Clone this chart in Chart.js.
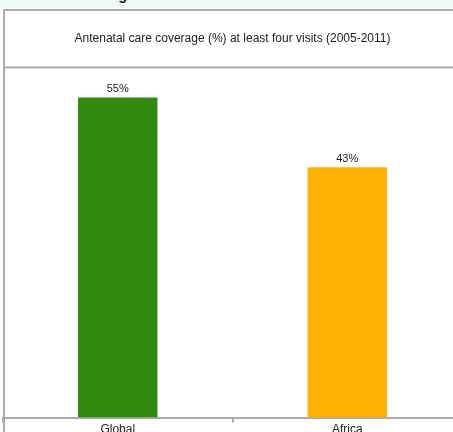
<!DOCTYPE html>
<html>
<head>
<meta charset="utf-8">
<title>Antenatal care coverage</title>
<script src="https://cdn.jsdelivr.net/npm/chart.js@4.4.0/dist/chart.umd.min.js"></script>
<style>
  html, body { margin: 0; padding: 0; background: #fff; overflow: hidden; width: 453px; height: 432px; }
  #strip { position: absolute; left: 0; top: 0; width: 453px; height: 8px; background: #effbf6; overflow: hidden; z-index: 1; }
  #strip span { position: absolute; left: 71px; top: -13px; font: bold 14px "Liberation Sans", Arial, sans-serif; color: #111; white-space: nowrap; }
  #wrap { position: absolute; left: 0; top: 0; width: 453px; height: 432px; overflow: hidden; }
</style>
</head>
<body>
<div id="strip"><span>Coverage</span></div>
<div id="wrap"><canvas id="anc" width="462" height="437"></canvas></div>
<script>
const regions = ['Global', 'Africa'];
const coverage = [55, 43];
const barColors = ['#338a0e', '#ffb100'];
const titleText = 'Antenatal care coverage (%) at least four visits (2005-2011)';

const lineGrey = '#ababab';

// box around the title and the left edge of the panel
const framePlugin = {
  id: 'frame',
  beforeDraw(chart) {
    const ctx = chart.ctx;
    const area = chart.chartArea;
    ctx.save();
    ctx.fillStyle = lineGrey;
    ctx.fillRect(3, 9, chart.width, 2);
    ctx.fillRect(3, area.top - 2, chart.width, 2);
    ctx.fillRect(3, 9, 2, chart.height);
    ctx.restore();
  }
};

// percentage above each bar
const valueLabels = {
  id: 'valueLabels',
  afterDatasetsDraw(chart) {
    const ctx = chart.ctx;
    const meta = chart.getDatasetMeta(0);
    ctx.save();
    ctx.font = '11px "Liberation Sans", Arial, sans-serif';
    ctx.fillStyle = '#222';
    ctx.textAlign = 'center';
    ctx.textBaseline = 'bottom';
    meta.data.forEach((bar, i) => {
      ctx.fillText(coverage[i] + '%', bar.x, bar.y - 3);
    });
    ctx.restore();
  }
};

new Chart(document.getElementById('anc'), {
  type: 'bar',
  data: {
    labels: regions,
    datasets: [{
      data: coverage,
      backgroundColor: barColors,
      borderWidth: 0,
      categoryPercentage: 1,
      barPercentage: 0.346
    }]
  },
  options: {
    responsive: false,
    animation: false,
    layout: { padding: { left: 3, right: 0, top: 0, bottom: 0 } },
    plugins: {
      legend: { display: false },
      tooltip: { enabled: false },
      title: {
        display: true,
        text: titleText,
        color: '#222',
        font: { family: '"Liberation Sans", Arial, sans-serif', size: 12, weight: 'normal' },
        padding: { top: 31, bottom: 23 }
      }
    },
    scales: {
      x: {
        border: { color: lineGrey, width: 2 },
        grid: { drawOnChartArea: false, drawTicks: true, tickLength: 5, color: lineGrey, lineWidth: 2 },
        ticks: { color: '#222', padding: 0, font: { family: '"Liberation Sans", Arial, sans-serif', size: 12 } }
      },
      y: {
        display: false,
        min: 0,
        max: 60
      }
    }
  },
  plugins: [framePlugin, valueLabels]
});
</script>
</body>
</html>
